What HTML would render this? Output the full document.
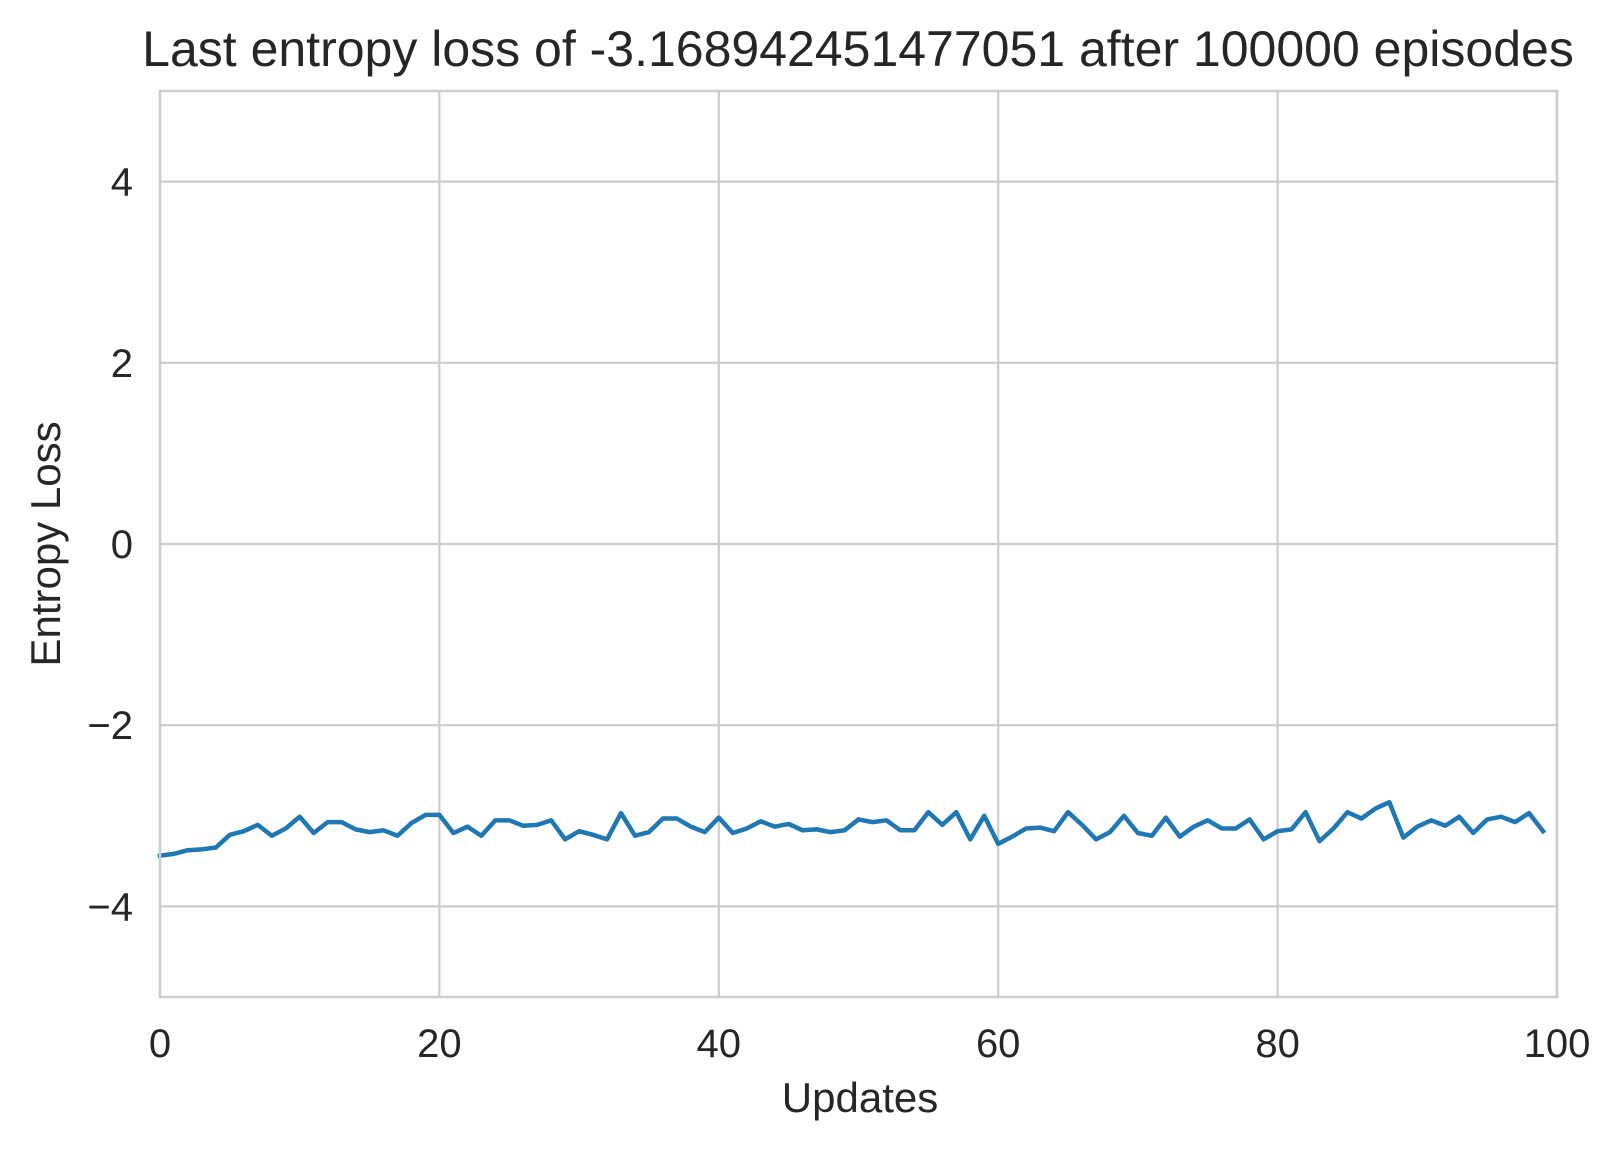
<!DOCTYPE html>
<html><head><meta charset="utf-8"><style>
html,body{margin:0;padding:0;background:#fff}
svg text{font-family:"Liberation Sans",Arial,sans-serif;fill:#262626}
</style></head><body>
<svg id="chart" width="1621" height="1149" xmlns="http://www.w3.org/2000/svg">
<rect width="1621" height="1149" fill="#fff"/>
<g id="grid"></g>
<g id="ticks"></g>
<polyline id="line" fill="none" stroke="#1f77b4" stroke-width="4.5" stroke-linejoin="round" stroke-linecap="square"/>
<rect x="160" y="91" width="1397" height="906" fill="none" stroke="#cccccc" stroke-width="2.5"/>
<text x="858" y="66" font-size="50" text-anchor="middle">Last entropy loss of -3.168942451477051 after 100000 episodes</text>
<text x="860" y="1112" font-size="42" text-anchor="middle">Updates</text>
<text transform="translate(60,544) rotate(-90)" font-size="42" text-anchor="middle">Entropy Loss</text>
</svg>
<script>
const xTicks=[0,20,40,60,80,100];
const yTicks=[-4,-2,0,2,4];
const yTickLabels=["\u22124","\u22122","0","2","4"];
const lossValues=[-3.44,-3.42,-3.38,-3.37,-3.35,-3.21,-3.17,-3.10,-3.22,-3.14,-3.01,-3.19,-3.07,-3.07,-3.15,-3.18,-3.16,-3.22,-3.08,-2.99,-2.99,-3.19,-3.12,-3.22,-3.05,-3.05,-3.11,-3.10,-3.05,-3.26,-3.17,-3.21,-3.26,-2.97,-3.22,-3.18,-3.03,-3.03,-3.12,-3.18,-3.02,-3.19,-3.14,-3.06,-3.12,-3.09,-3.16,-3.15,-3.18,-3.16,-3.04,-3.07,-3.05,-3.16,-3.16,-2.96,-3.10,-2.96,-3.26,-3.00,-3.31,-3.23,-3.14,-3.13,-3.17,-2.96,-3.10,-3.26,-3.18,-3.00,-3.19,-3.22,-3.02,-3.23,-3.12,-3.05,-3.14,-3.14,-3.04,-3.26,-3.17,-3.15,-2.96,-3.28,-3.14,-2.96,-3.03,-2.92,-2.85,-3.24,-3.12,-3.05,-3.11,-3.01,-3.19,-3.04,-3.01,-3.07,-2.97,-3.17];
const L=160,R=1557,T=91,B=997;
const xs=v=>L+(v-0)/(100-0)*(R-L);
const ys=v=>B-(v+5)/10*(B-T);
const NS="http://www.w3.org/2000/svg";
const grid=document.getElementById('grid'),ticks=document.getElementById('ticks');
xTicks.forEach(t=>{
 const l=document.createElementNS(NS,'line');
 
 
 l.setAttribute('x1',xs(t));l.setAttribute('x2',xs(t));l.setAttribute('y1',T);l.setAttribute('y2',B);
 l.setAttribute('stroke','#cccccc');l.setAttribute('stroke-width','2.2');grid.appendChild(l);
 const tx=document.createElementNS(NS,'text');
 
 
 tx.setAttribute('x',xs(t));tx.setAttribute('y',1057);tx.setAttribute('font-size','40');tx.setAttribute('text-anchor','middle');
 tx.textContent=t;ticks.appendChild(tx);
});
yTicks.forEach((t,i)=>{
 const l=document.createElementNS(NS,'line');
 
 
 l.setAttribute('x1',L);l.setAttribute('x2',R);l.setAttribute('y1',ys(t));l.setAttribute('y2',ys(t));
 l.setAttribute('stroke','#cccccc');l.setAttribute('stroke-width','2.2');grid.appendChild(l);
 const tx=document.createElementNS(NS,'text');
 
 
 tx.setAttribute('x',133);tx.setAttribute('y',ys(t)+14);tx.setAttribute('font-size','40');tx.setAttribute('text-anchor','end');
 tx.textContent=yTickLabels[i];ticks.appendChild(tx);
});
document.getElementById('line').setAttribute('points',lossValues.map((v,i)=>xs(i)+','+ys(v)).join(' '));
</script>
</body></html>
